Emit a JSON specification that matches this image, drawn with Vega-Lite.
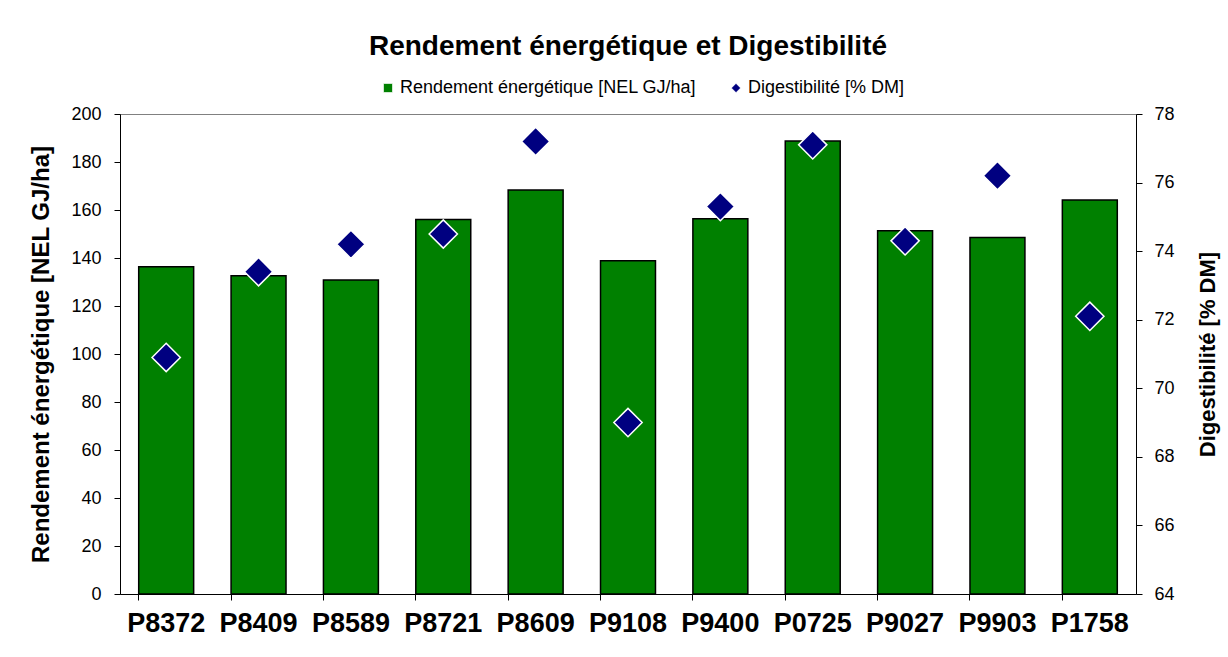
{
  "$schema": "https://vega.github.io/schema/vega-lite/v6.json",
  "autosize": "none",
  "width": 1016,
  "height": 480,
  "padding": {"left": 120, "top": 114, "right": 92, "bottom": 63},
  "background": "white",
  "title": {
    "text": "Rendement énergétique et Digestibilité",
    "font": "Liberation Sans",
    "fontSize": 28,
    "fontWeight": "bold",
    "color": "black",
    "anchor": "middle",
    "offset": 18
  },
  "data": {
    "values": [
      {"variete": "P8372", "rendement": 136.4, "digest": 70.9},
      {"variete": "P8409", "rendement": 132.6, "digest": 73.4},
      {"variete": "P8589", "rendement": 130.8, "digest": 74.2},
      {"variete": "P8721", "rendement": 156.0, "digest": 74.5},
      {"variete": "P8609", "rendement": 168.3, "digest": 77.2},
      {"variete": "P9108", "rendement": 138.9, "digest": 69.0},
      {"variete": "P9400", "rendement": 156.4, "digest": 75.3},
      {"variete": "P0725", "rendement": 188.7, "digest": 77.1},
      {"variete": "P9027", "rendement": 151.4, "digest": 74.3},
      {"variete": "P9903", "rendement": 148.5, "digest": 76.2},
      {"variete": "P1758", "rendement": 164.2, "digest": 72.1}
    ]
  },
  "encoding": {
    "x": {
      "field": "variete",
      "type": "nominal",
      "sort": null,
      "scale": {"paddingInner": 0.405, "paddingOuter": 0.2025},
      "axis": {
        "title": null,
        "labelAngle": 0,
        "labelFont": "Liberation Sans",
        "labelFontSize": 27,
        "labelFontWeight": "bold",
        "labelColor": "black",
        "labelPadding": 10,
        "bandPosition": 0,
        "tickSize": 6,
        "tickColor": "black",
        "domainColor": "black",
        "grid": false
      }
    }
  },
  "layer": [
    {
      "mark": {"type": "bar", "stroke": "black", "strokeWidth": 1.5},
      "encoding": {
        "y": {
          "field": "rendement",
          "type": "quantitative",
          "scale": {"domain": [0, 200], "nice": false},
          "axis": {
            "values": [0, 20, 40, 60, 80, 100, 120, 140, 160, 180, 200],
            "title": "Rendement énergétique [NEL GJ/ha]",
            "titleFont": "Liberation Sans",
            "titleFontSize": 24,
            "titleFontWeight": "bold",
            "titleColor": "black",
            "titlePadding": 17,
            "labelFont": "Liberation Sans",
            "labelFontSize": 18,
            "labelColor": "black",
            "labelPadding": 13,
            "tickSize": 6,
            "tickColor": "black",
            "domainColor": "black",
            "grid": false
          }
        },
        "color": {
          "datum": "Rendement énergétique [NEL GJ/ha]",
          "scale": {
            "domain": ["Rendement énergétique [NEL GJ/ha]", "Digestibilité [% DM]"],
            "range": ["#008000", "#000080"]
          },
          "legend": {
            "title": null,
            "orient": "none",
            "direction": "horizontal",
            "legendX": 259,
            "legendY": -35,
            "labelFont": "Liberation Sans",
            "labelFontSize": 18,
            "labelColor": "black",
            "labelLimit": 0,
            "labelOffset": 3,
            "columnPadding": 30,
            "symbolSize": 90,
            "symbolStrokeColor": "black",
            "symbolStrokeWidth": 1,
            "symbolOpacity": 1
          }
        }
      }
    },
    {
      "mark": {"type": "point", "filled": true, "size": 800, "stroke": "white", "strokeWidth": 1.5, "opacity": 1},
      "encoding": {
        "y": {
          "field": "digest",
          "type": "quantitative",
          "scale": {"domain": [64, 78], "nice": false, "zero": false},
          "axis": {
            "orient": "right",
            "values": [64, 66, 68, 70, 72, 74, 76, 78],
            "title": "Digestibilité [% DM]",
            "titleAngle": 270,
            "titleFont": "Liberation Sans",
            "titleFontSize": 22,
            "titleFontWeight": "bold",
            "titleColor": "black",
            "titlePadding": 45,
            "labelFont": "Liberation Sans",
            "labelFontSize": 18,
            "labelColor": "black",
            "labelPadding": 12,
            "tickSize": 6,
            "tickColor": "black",
            "domainColor": "black",
            "grid": false
          }
        },
        "color": {"datum": "Digestibilité [% DM]"},
        "shape": {
          "datum": "Digestibilité [% DM]",
          "scale": {
            "domain": ["Rendement énergétique [NEL GJ/ha]", "Digestibilité [% DM]"],
            "range": ["square", "diamond"]
          },
          "legend": {
            "title": null,
            "orient": "none",
            "direction": "horizontal",
            "legendX": 259,
            "legendY": -35,
            "labelFont": "Liberation Sans",
            "labelFontSize": 18,
            "labelColor": "black",
            "labelLimit": 0,
            "labelOffset": 3,
            "columnPadding": 30,
            "symbolSize": 90,
            "symbolStrokeColor": "black",
            "symbolStrokeWidth": 1,
            "symbolOpacity": 1
          }
        }
      }
    }
  ],
  "resolve": {"scale": {"y": "independent"}},
  "config": {
    "view": {"stroke": "#808080", "strokeWidth": 1},
    "font": "Liberation Sans"
  }
}
